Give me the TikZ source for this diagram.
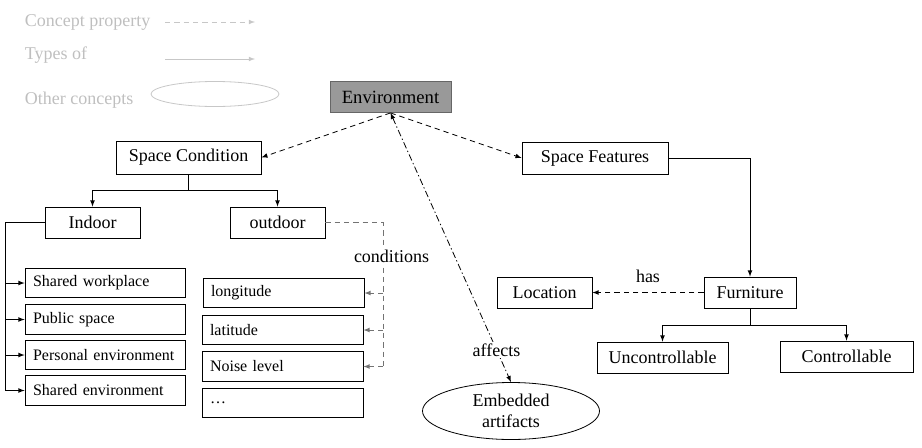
\documentclass[tikz,border=0pt]{standalone}
\usepackage{fontspec}
\setmainfont{Liberation Serif}
\usetikzlibrary{arrows,shapes,positioning}

\begin{document}
\begin{tikzpicture}[x=0.75pt,y=-0.75pt, line width=0.6pt,
  box/.style={draw, rectangle, inner sep=2pt, font=\fontsize{13.5}{15}\selectfont},
  listbox/.style={draw, rectangle, inner xsep=6pt, inner ysep=2pt, text width=108pt, align=left, minimum height=22pt, font=\fontsize{12}{14}\selectfont},
  prop/.style={dashed, dash pattern=on 4pt off 3pt, -latex},
  lbl/.style={font=\fontsize{13.5}{15}\selectfont}
]
\useasboundingbox (0,0) rectangle (922,447);

% legend
\begin{scope}[color=black!22, text=black!25]
\node[lbl, anchor=west] (lgprop) at (20,22) {Concept property};
\node[lbl, anchor=west] (lgtype) at (20,55) {Types of};
\node[lbl, anchor=west] (lgother) at (20,100) {Other concepts};
\coordinate (lgpa) at (165,22);  \coordinate (lgpb) at (255,22);
\coordinate (lgta) at (165,59);  \coordinate (lgtb) at (255,59);
\draw[prop] (lgpa) -- (lgpb);
\draw[-latex] (lgta) -- (lgtb);
\node[draw, ellipse, minimum width=96pt, minimum height=18.75pt] (lgell) at (215,94) {};
\end{scope}

% concepts
\node[box, fill=black!40, draw=black!60, minimum width=90.75pt, minimum height=23.25pt, font=\fontsize{14}{16}\selectfont] (env) at (390.5,97) {Environment};
\node[box, minimum width=108.75pt, minimum height=24.75pt] (sc) at (188.5,157.5) {Space Condition};
\node[box, minimum width=109.5pt, minimum height=24pt] (sf) at (595,158) {Space Features};
\node[box, minimum width=71.25pt, minimum height=23.25pt] (indoor) at (92.5,222.5) {Indoor};
\node[box, minimum width=71.25pt, minimum height=23.25pt] (outdoor) at (277.5,222.5) {outdoor};

\node[listbox] (shwork) at (105,283) {Shared workplace};
\node[listbox] (pubsp) at (105,319.5) {Public space};
\node[listbox] (persenv) at (105,355) {Personal environment};
\node[listbox] (shenv) at (105,390.5) {Shared environment};

\node[listbox, text width=108.75pt] (lon) at (283.5,293) {longitude};
\node[listbox, text width=108.75pt] (lat) at (282.5,330) {latitude};
\node[listbox, text width=108.75pt] (noise) at (282.5,366.5) {Noise level};
\node[listbox, text width=108.75pt] (etc) at (282.5,403) {\ldots};

\node[box, minimum width=69pt, minimum height=23.25pt] (furn) at (750,292.5) {Furniture};
\node[box, minimum width=71.25pt, minimum height=23.25pt] (loc) at (544.5,292.5) {Location};
\node[box, minimum width=98.25pt, minimum height=23.25pt] (unctl) at (662.5,357.5) {Uncontrollable};
\node[box, minimum width=99.75pt, minimum height=23.25pt] (ctl) at (846.5,356.5) {Controllable};

\node[draw, ellipse, minimum width=132.75pt, minimum height=42.75pt, align=center, inner sep=0pt, lbl, font=\fontsize{13.5}{16}\selectfont] (emb) at (511,411) {Embedded\\artifacts};

% properties
\draw[prop] (env.south) -- (sc.east);
\draw[prop] (env.south) -- (sf.east -| sf.west);
\draw[dash pattern=on 5pt off 2pt on 1pt off 2pt, latex-latex] (env.south) -- (emb.north) node[lbl, pos=0.88, fill=white, inner sep=1pt] (affects) {affects};
\draw[prop] (furn.west) -- (loc.east) node[lbl, midway, above=4pt] (has) {has};

% types of
\draw[-latex] (sc.south) -- ++(0,16) -| (indoor.north);
\draw[-latex] (sc.south) -- ++(0,16) -| (outdoor.north);
\draw[-latex] (sf.east) -| (furn.north);
\draw[-latex] (furn.south) -- ++(0,17) -| (unctl.north);
\draw[-latex] (furn.south) -- ++(0,17) -| (ctl.north);

\coordinate (rail) at (5,222.5);
\draw (indoor.west) -- (rail);
\foreach \n in {shwork,pubsp,persenv,shenv}
  \draw[-latex] (rail) |- (\n.west);

% outdoor conditions
\coordinate (crail) at (383,222.5);
\draw[prop, -, color=black!55] (outdoor.east) -- (crail) -- (crail |- noise.east);
\node[lbl, fill=white, inner sep=1pt] (cond) at (391.5,256) {conditions};
\foreach \n in {lon,lat,noise}
  \draw[prop, color=black!55] (crail |- \n.east) -- (\n.east);
\end{tikzpicture}
\end{document}
